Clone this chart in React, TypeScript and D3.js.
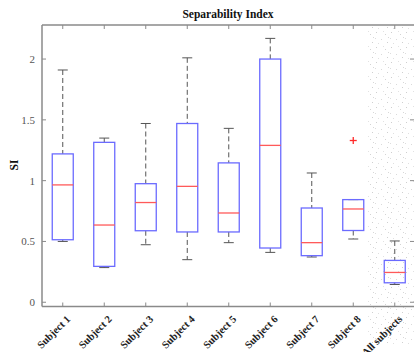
import React from 'react';
import * as d3 from 'd3';

const categories = ['Subject 1', 'Subject 2', 'Subject 3', 'Subject 4', 'Subject 5', 'Subject 6', 'Subject 7', 'Subject 8', 'All subjects'];
const whiskerLow = [0.5, 0.285, 0.473, 0.35, 0.49, 0.41, 0.372, 0.52, 0.146];
const q1 = [0.514, 0.295, 0.588, 0.578, 0.578, 0.446, 0.383, 0.59, 0.16];
const median = [0.965, 0.635, 0.82, 0.953, 0.734, 1.29, 0.49, 0.767, 0.245];
const q3 = [1.22, 1.315, 0.975, 1.47, 1.146, 2.0, 0.775, 0.844, 0.344];
const whiskerHigh = [1.91, 1.35, 1.47, 2.01, 1.43, 2.17, 1.063, 0.844, 0.504];
const outliers = [[], [], [], [], [], [], [], [1.33], []];
const yTicks = [0, 0.5, 1, 1.5, 2];

const W = 414;
const H = 352;
const serif = '"Liberation Serif", "DejaVu Serif", serif';

export default function App() {
  const x = d3.scaleLinear().domain([0.5, 9.5]).range([42, 415.5]);
  const y = d3.scaleLinear().domain([-0.035, 2.28]).range([306.5, 25]);
  const boxHalf = 10.5;
  const capHalf = 5;
  const axisColor = '#8a8a8a';
  const boxColor = '#6b6bff';
  const medColor = '#ff5a5a';
  const whiskColor = '#555';

  // scattered speckle texture over the "All subjects" column
  const dots: [number, number, string][] = [
    [1, 2, '#cfcfcf'], [6, 9, '#dadada'], [10, 4, '#d4d4d4'], [3, 13, '#e0e0e0'],
    [12, 12, '#d0d0d0'], [8, 1, '#e2e2e2'], [0, 8, '#dddddd'], [13, 7, '#d8d8d8'],
  ];

  return (
    <svg width={W} height={H} style={{ position: 'absolute', left: 0, top: 0, background: '#fff' }}>
      <defs>
        <pattern id="stip" width="15" height="15" patternUnits="userSpaceOnUse">
          {dots.map(([dx, dy, f], k) => <rect key={k} x={dx} y={dy} width="1" height="1" fill={f} />)}
        </pattern>
      </defs>
      <rect x={367} y={25} width={W - 367} height={320} fill="url(#stip)" />

      {/* frame */}
      <line x1={x(0.5)} x2={x(9.5)} y1={y.range()[1]} y2={y.range()[1]} stroke={axisColor} strokeWidth={1.5} />
      <line x1={x(0.5)} x2={x(9.5)} y1={y.range()[0]} y2={y.range()[0]} stroke={axisColor} strokeWidth={1.5} />
      <line x1={x(0.5)} x2={x(0.5)} y1={y.range()[0]} y2={y.range()[1]} stroke={axisColor} strokeWidth={1.5} />

      {yTicks.map(t => (
        <g key={t}>
          <line x1={x(0.5)} x2={x(0.5) + 4} y1={y(t)} y2={y(t)} stroke={axisColor} />
          <line x1={414} x2={410} y1={y(t)} y2={y(t)} stroke={axisColor} />
          <text x={35} y={y(t) + 4} textAnchor="end" fontFamily={serif} fontSize={11} fill="#555">{t}</text>
        </g>
      ))}

      {categories.map((c, i) => {
        const cx = x(i + 1);
        return (
          <g key={c}>
            <line x1={cx} x2={cx} y1={y.range()[0]} y2={y.range()[0] - 4} stroke={axisColor} />
            <line x1={cx} x2={cx} y1={y.range()[1]} y2={y.range()[1] + 4} stroke={axisColor} />
            <line x1={cx} x2={cx} y1={y(whiskerHigh[i])} y2={y(q3[i])} stroke={whiskColor} strokeDasharray="5,3" />
            <line x1={cx} x2={cx} y1={y(q1[i])} y2={y(whiskerLow[i])} stroke={whiskColor} strokeDasharray="5,3" />
            <line x1={cx - capHalf} x2={cx + capHalf} y1={y(whiskerHigh[i])} y2={y(whiskerHigh[i])} stroke={whiskColor} />
            <line x1={cx - capHalf} x2={cx + capHalf} y1={y(whiskerLow[i])} y2={y(whiskerLow[i])} stroke={whiskColor} />
            <rect x={cx - boxHalf} y={y(q3[i])} width={boxHalf * 2} height={y(q1[i]) - y(q3[i])} fill="none" stroke={boxColor} strokeWidth={1.3} />
            <line x1={cx - boxHalf} x2={cx + boxHalf} y1={y(median[i])} y2={y(median[i])} stroke={medColor} strokeWidth={1.3} />
            {outliers[i].map((o, j) => (
              <g key={j} stroke="#ff2a2a" strokeWidth={1.3}>
                <line x1={cx - 3.5} x2={cx + 3.5} y1={y(o)} y2={y(o)} />
                <line x1={cx} x2={cx} y1={y(o) - 3.5} y2={y(o) + 3.5} />
              </g>
            ))}
            <text
              transform={`translate(${cx + 3},${y.range()[0] + 8}) rotate(-45)`}
              textAnchor="end"
              dy="0.7em"
              fontFamily={serif}
              fontWeight="bold"
              fontSize={10.5}
              fill="#222"
            >{c}</text>
          </g>
        );
      })}

      <text x={228} y={18} textAnchor="middle" fontFamily={serif} fontWeight="bold" fontSize={11.5} fill="#111">Separability Index</text>
      <text transform={`translate(18,${165}) rotate(-90)`} textAnchor="middle" fontFamily={serif} fontWeight="bold" fontSize={11.5} fill="#111">SI</text>
    </svg>
  );
}
